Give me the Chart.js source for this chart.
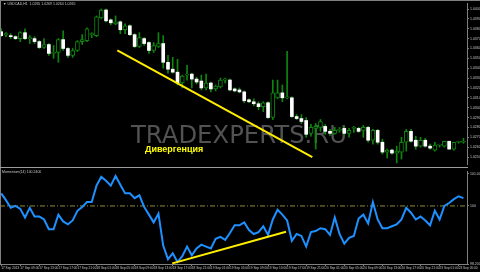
<!DOCTYPE html>
<html><head><meta charset="utf-8">
<script src="https://cdn.jsdelivr.net/npm/chart.js@4"></script>
<style>
html,body{margin:0;padding:0;background:#000;width:480px;height:272px;overflow:hidden}
canvas{position:absolute;left:0;display:block}
#c1{top:0}
#c2{top:168px}
</style></head><body>
<canvas id="c1" width="480" height="168"></canvas>
<canvas id="c2" width="480" height="104"></canvas>
<script>
// ---- data (H1 candles, index 0..97) ----
const open = [1.0377,1.0374,1.0373,1.0372,1.0370,1.0376,1.0370,1.0370,1.0367,1.0361,
1.0364,1.0355,1.0356,1.0369,1.0360,1.0353,1.0358,1.0367,1.0368,1.0374,
1.0373,1.0391,1.0399,1.0389,1.0385,1.0387,1.0379,1.0383,1.0374,1.0362,
1.0370,1.0366,1.0358,1.0362,1.0365,1.0346,1.0339,1.0336,1.0325,1.0333,
1.0334,1.0329,1.0327,1.0320,1.0325,1.0319,1.0321,1.0328,1.0328,1.0319,
1.0318,1.0316,1.0308,1.0306,1.0304,1.0301,1.0305,1.0290,1.0310,1.0315,
1.0310,1.0310,1.0291,1.0289,1.0287,1.0274,1.0279,1.0280,1.0281,1.0276,
1.0274,1.0277,1.0279,1.0274,1.0279,1.0279,1.0277,1.0280,1.0267,1.0277,
1.0265,1.0255,1.0257,1.0254,1.0255,1.0265,1.0276,1.0267,1.0261,1.0267,
1.0261,1.0257,1.0262,1.0261,1.0266,1.0258,1.0265,1.0265];
const high = [1.0380,1.0376,1.0375,1.0373,1.0377,1.0380,1.0373,1.0372,1.0368,1.0370,
1.0365,1.0363,1.0370,1.0378,1.0361,1.0360,1.0368,1.0374,1.0381,1.0376,
1.0393,1.0400,1.0400,1.0390,1.0393,1.0388,1.0385,1.0384,1.0375,1.0376,
1.0371,1.0367,1.0366,1.0376,1.0373,1.0353,1.0351,1.0349,1.0333,1.0343,
1.0335,1.0331,1.0333,1.0334,1.0326,1.0323,1.0330,1.0330,1.0329,1.0320,
1.0320,1.0317,1.0309,1.0309,1.0306,1.0306,1.0306,1.0328,1.0328,1.0323,
1.0357,1.0311,1.0293,1.0293,1.0290,1.0283,1.0284,1.0288,1.0283,1.0278,
1.0280,1.0280,1.0281,1.0279,1.0281,1.0280,1.0282,1.0281,1.0278,1.0278,
1.0268,1.0258,1.0258,1.0261,1.0270,1.0278,1.0278,1.0271,1.0270,1.0269,
1.0263,1.0265,1.0263,1.0266,1.0266,1.0265,1.0266,1.0269];
const low = [1.0372,1.0372,1.0370,1.0369,1.0367,1.0369,1.0365,1.0365,1.0360,1.0360,
1.0353,1.0350,1.0346,1.0358,1.0351,1.0351,1.0357,1.0364,1.0367,1.0371,
1.0372,1.0390,1.0387,1.0384,1.0384,1.0375,1.0375,1.0373,1.0361,1.0361,
1.0363,1.0355,1.0356,1.0361,1.0340,1.0335,1.0335,1.0323,1.0320,1.0328,
1.0320,1.0324,1.0318,1.0318,1.0316,1.0317,1.0320,1.0325,1.0317,1.0316,
1.0315,1.0305,1.0305,1.0302,1.0298,1.0296,1.0289,1.0288,1.0309,1.0306,
1.0309,1.0290,1.0288,1.0284,1.0270,1.0271,1.0258,1.0276,1.0273,1.0272,
1.0273,1.0275,1.0273,1.0270,1.0275,1.0275,1.0270,1.0265,1.0263,1.0263,
1.0253,1.0249,1.0253,1.0244,1.0248,1.0256,1.0265,1.0258,1.0260,1.0260,
1.0258,1.0256,1.0260,1.0260,1.0258,1.0257,1.0264,1.0264];
const close = [1.0373,1.0374,1.0372,1.0370,1.0376,1.0370,1.0370,1.0367,1.0361,1.0364,
1.0355,1.0356,1.0369,1.0360,1.0353,1.0358,1.0367,1.0369,1.0380,1.0374,
1.0392,1.0399,1.0388,1.0386,1.0387,1.0379,1.0383,1.0374,1.0362,1.0371,
1.0365,1.0358,1.0363,1.0365,1.0346,1.0339,1.0336,1.0325,1.0332,1.0333,
1.0329,1.0326,1.0320,1.0325,1.0319,1.0322,1.0328,1.0328,1.0318,1.0317,
1.0316,1.0307,1.0306,1.0304,1.0301,1.0305,1.0290,1.0315,1.0315,1.0310,
1.0310,1.0291,1.0289,1.0286,1.0273,1.0280,1.0281,1.0286,1.0276,1.0274,
1.0277,1.0277,1.0274,1.0277,1.0279,1.0276,1.0280,1.0267,1.0277,1.0265,
1.0255,1.0257,1.0254,1.0256,1.0265,1.0276,1.0266,1.0261,1.0267,1.0261,
1.0259,1.0262,1.0262,1.0266,1.0258,1.0265,1.0265,1.0265];
const momentum = [100.39,100.18,99.94,100.00,99.91,99.64,99.94,99.67,99.67,99.58,
99.28,99.28,99.73,99.52,99.43,99.55,99.85,99.97,100.12,100.12,
100.63,100.90,100.78,100.63,100.93,100.66,100.39,100.39,100.24,100.33,
99.97,99.73,99.49,99.76,98.77,98.35,98.53,98.26,98.44,98.74,
98.47,98.68,98.80,98.74,98.68,98.98,99.04,98.95,99.16,99.40,
99.40,99.49,99.25,99.13,99.19,99.37,99.10,99.58,99.88,99.73,
99.55,98.92,99.13,99.07,98.74,99.19,99.22,99.31,99.28,99.10,
99.64,99.13,98.83,99.01,99.07,99.61,99.73,99.46,100.12,99.58,
99.31,99.31,99.37,99.43,99.58,99.94,99.79,99.58,99.67,99.55,
99.40,99.85,99.58,100.00,100.09,100.21,100.30,100.24];
const momentumLevel = [100];
const trendTopX = [24.37, 65.29];
const trendTopY = [1.0358, 1.0250];
const trendBotX = [35.9, 59.77];
const trendBotY = [98.22, 99.20];
const priceTicks = [1.0250,1.0260,1.0270,1.0280,1.0290,1.0300,1.0310,1.0320,1.0330,1.0340,1.0350,1.0360,1.0370,1.0380,1.0390,1.0400];
const momentumTicks = [98.20, 100, 101.00];
const timeTicks = [0,4,8,12,16,20,24,28,32,36,40,44,48,52,56,60,64,68,72,76,80,84,88,92,96];
const timeLabels = ['17 Sep 2013','17 Sep 09:00','17 Sep 13:00','17 Sep 17:00','17 Sep 21:00','18 Sep 01:00','18 Sep 05:00','18 Sep 09:00','18 Sep 13:00','18 Sep 17:00','18 Sep 21:00','19 Sep 01:00','19 Sep 05:00','19 Sep 09:00','19 Sep 13:00','19 Sep 17:00','19 Sep 21:00','20 Sep 01:00','20 Sep 05:00','20 Sep 09:00','20 Sep 13:00','20 Sep 17:00','20 Sep 21:00','23 Sep 01:00','23 Sep 05:00'];
const titleText = 'USDCAD,H1  1.0265 1.0269 1.0264 1.0265';
const indicatorText = 'Momentum(14) 100.2400';
const watermarkText = 'TRADEXPERTS.RU';
const noteText = 'Дивергенция';

// ---- styles ----
const GREEN = '#0e860e';
const AXIS = '#808080';
const LABEL = '#c4c4c4';
const YELLOW = '#ffee00';
const XMIN = -0.25, XMAX = 97.75;

const bull = [], bear = [], wicks = [];
open.forEach((o, i) => {
  const c = close[i];
  wicks.push({x: i, y: [low[i], high[i]]});
  if (c >= o) bull.push({x: i, y: [o, c]}); else bear.push({x: i, y: [c, o]});
});

Chart.defaults.animation = false;
Chart.defaults.font.family = '"Liberation Sans", Arial, sans-serif';

const deco1 = {
  id: 'deco1',
  beforeDatasetsDraw(chart) {
    const ctx = chart.ctx;
    ctx.save();
    ctx.font = '24px "DejaVu Sans"';
    const w = ctx.measureText(watermarkText).width;
    const size = 24 * 216 / w;
    ctx.font = size.toFixed(2) + 'px "DejaVu Sans"';
    ctx.fillStyle = '#525252';
    ctx.textBaseline = 'alphabetic';
    ctx.fillText(watermarkText, 131, 143);
    ctx.restore();
  },
  afterDraw(chart) {
    const ctx = chart.ctx;
    ctx.save();
    ctx.strokeStyle = AXIS; ctx.lineWidth = 1;
    ctx.beginPath();
    ctx.moveTo(0, 0.5); ctx.lineTo(480, 0.5);
    ctx.moveTo(0.5, 0); ctx.lineTo(0.5, 168);
    ctx.stroke();
    ctx.strokeStyle = '#9c9c9c';
    ctx.beginPath(); ctx.moveTo(0, 167.5); ctx.lineTo(468, 167.5); ctx.stroke();
    ctx.font = 'bold 9px "Liberation Sans"';
    ctx.fillStyle = '#ffff00';
    ctx.fillText(noteText, 145, 152);
    ctx.font = '3.5px "Liberation Sans"';
    ctx.fillStyle = LABEL;
    ctx.fillText('\u25BC ' + titleText, 3, 5);
    ctx.restore();
  }
};

new Chart(document.getElementById('c1'), {
  type: 'bar',
  data: {
    datasets: [
      {type: 'line', data: trendTopX.map((x, k) => ({x, y: trendTopY[k]})), borderColor: YELLOW, borderWidth: 2, pointRadius: 0},
      {type: 'bar', data: bear, backgroundColor: '#ffffff', barThickness: 3, grouped: false, minBarLength: 1},
      {type: 'bar', data: bull, backgroundColor: '#000000', borderColor: GREEN, borderWidth: 1, borderSkipped: false, barThickness: 4, grouped: false, minBarLength: 1},
      {type: 'bar', data: wicks, backgroundColor: GREEN, barThickness: 1, grouped: false}
    ]
  },
  options: {
    responsive: false, devicePixelRatio: 1,
    layout: {padding: {top: 2, bottom: 2, left: 0, right: 0}},
    plugins: {legend: {display: false}, tooltip: {enabled: false}},
    scales: {
      x: {type: 'linear', min: XMIN, max: XMAX, display: false, offset: false},
      y: {position: 'right', min: 1.0242, max: 1.0406,
        afterBuildTicks: s => { s.ticks = priceTicks.map(v => ({value: v})); },
        afterFit: s => { s.width = 13; },
        ticks: {color: LABEL, font: {size: 3.5}, padding: 1, callback: v => v.toFixed(4)},
        grid: {drawOnChartArea: false, tickLength: 2, color: AXIS},
        border: {display: true, color: AXIS}
      }
    }
  },
  plugins: [deco1]
});

const deco2 = {
  id: 'deco2',
  afterDraw(chart) {
    const ctx = chart.ctx;
    ctx.save();
    ctx.strokeStyle = AXIS; ctx.lineWidth = 1;
    ctx.beginPath(); ctx.moveTo(0.5, 0); ctx.lineTo(0.5, 97); ctx.stroke();
    ctx.font = '3.5px "Liberation Sans"';
    ctx.fillStyle = LABEL;
    ctx.fillText(indicatorText, 2, 5);
    ctx.restore();
  }
};

new Chart(document.getElementById('c2'), {
  type: 'line',
  data: {
    datasets: [
      {data: trendBotX.map((x, k) => ({x, y: trendBotY[k]})), borderColor: YELLOW, borderWidth: 2, pointRadius: 0},
      {data: momentum.map((v, i) => ({x: i, y: v})), borderColor: '#1e90ff', borderWidth: 2, pointRadius: 0, tension: 0},
      {data: [{x: XMIN, y: momentumLevel[0]}, {x: XMAX, y: momentumLevel[0]}], borderColor: '#8c8c3c', borderWidth: 1, borderDash: [5, 2, 1, 2], pointRadius: 0}
    ]
  },
  options: {
    responsive: false, devicePixelRatio: 1,
    layout: {padding: 0},
    plugins: {legend: {display: false}, tooltip: {enabled: false}},
    scales: {
      x: {type: 'linear', min: XMIN, max: XMAX, position: 'bottom', offset: false,
        afterBuildTicks: s => { s.ticks = timeTicks.map(v => ({value: v})); },
        afterFit: s => { s.height = 8; },
        ticks: {color: LABEL, font: {size: 3.2}, padding: 0, align: 'start', autoSkip: false, maxRotation: 0, minRotation: 0,
          callback: (v) => timeLabels[timeTicks.indexOf(v)]},
        grid: {drawOnChartArea: false, tickLength: 2, color: AXIS},
        border: {display: true, color: AXIS}
      },
      y: {position: 'right', min: 98.2, max: 101.08,
        afterBuildTicks: s => { s.ticks = momentumTicks.map(v => ({value: v})); },
        afterFit: s => { s.width = 13; },
        ticks: {color: LABEL, font: {size: 3.5}, padding: 1, callback: v => v === 100 ? '100' : v.toFixed(4)},
        grid: {drawOnChartArea: false, tickLength: 2, color: AXIS},
        border: {display: true, color: AXIS}
      }
    }
  },
  plugins: [deco2]
});
</script>
</body></html>
